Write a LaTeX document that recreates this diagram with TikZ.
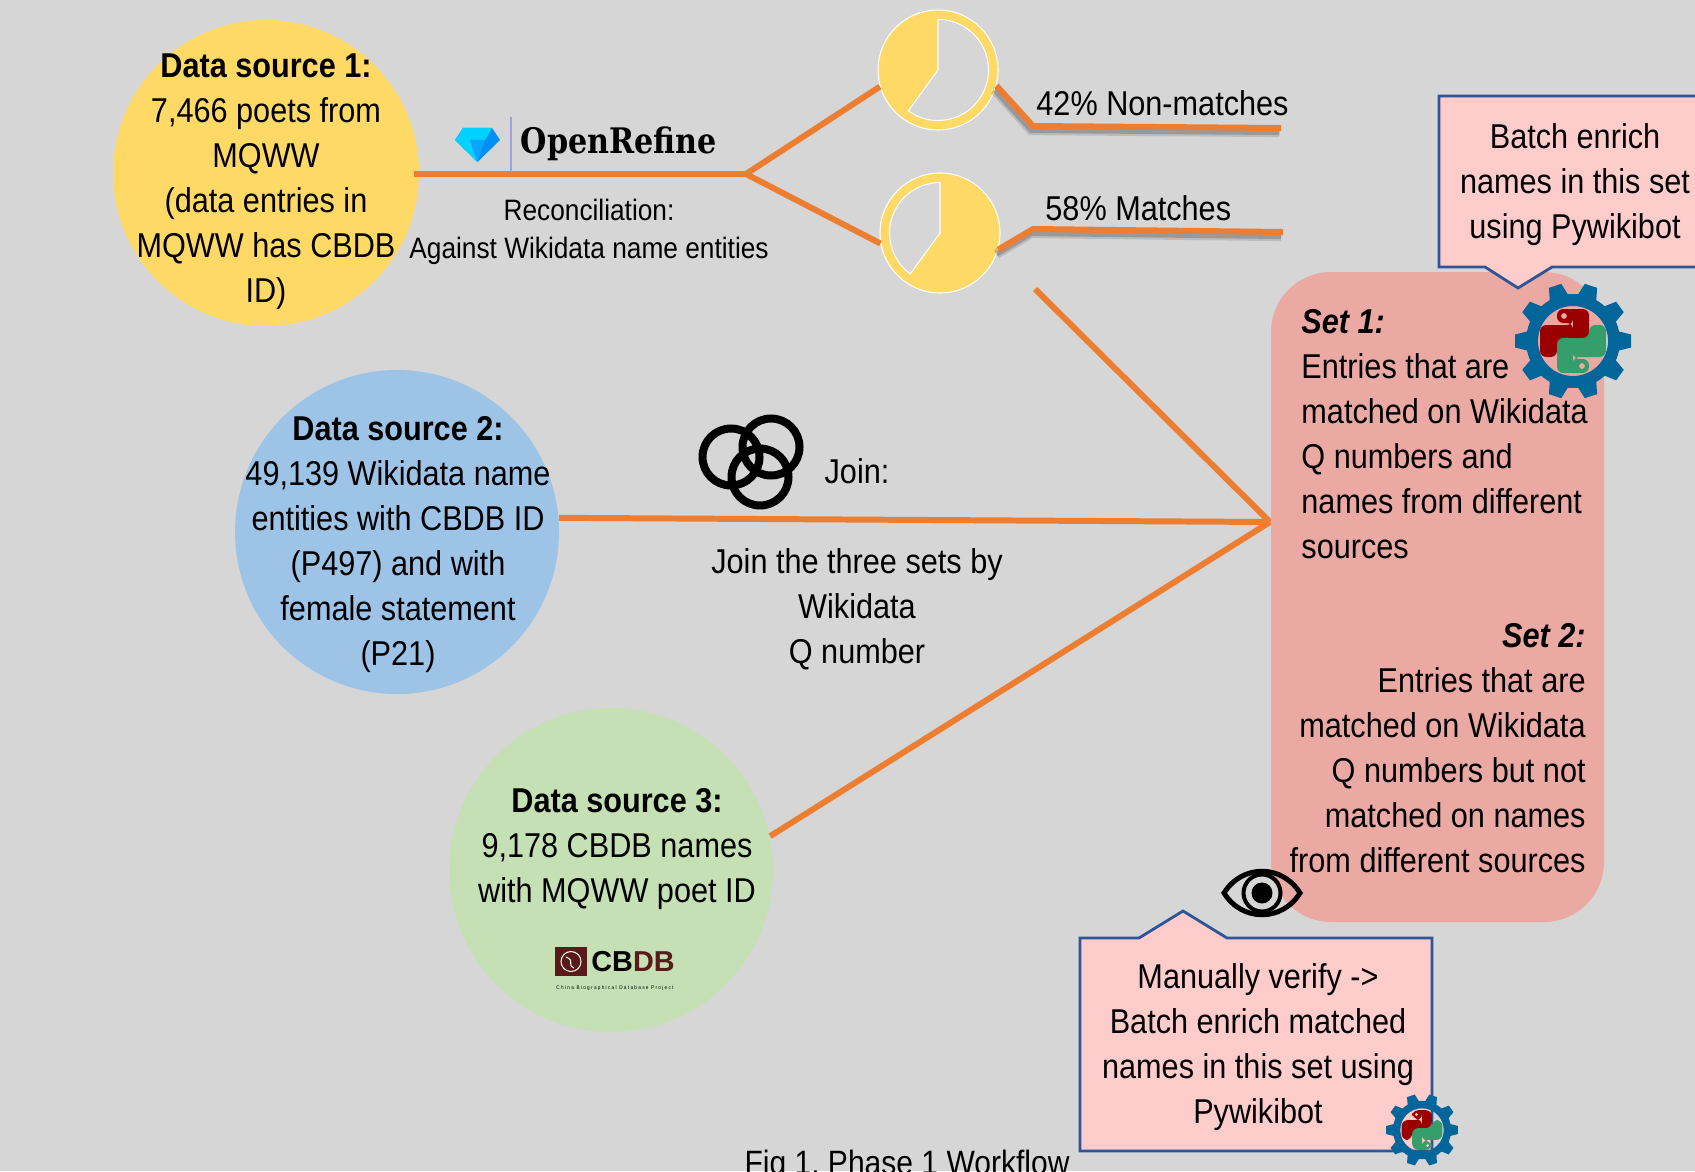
\documentclass[tikz,border=0pt]{standalone}
\usepackage{fontspec}
\usepackage{xcolor}
\usepackage{tikz}
\setmainfont[FakeStretch=0.89]{Liberation Sans}
\newfontfamily\logofont[FakeStretch=0.86]{DejaVu Serif}
\newfontfamily\cbdbfont{Liberation Sans}
\definecolor{mybg}{HTML}{D6D6D6}
\definecolor{myyellow}{HTML}{FFD966}
\definecolor{myblue}{HTML}{9DC3E6}
\definecolor{mygreen}{HTML}{C5E0B4}
\definecolor{myorange}{HTML}{ED7D31}
\definecolor{mysalmon}{HTML}{EBA9A4}
\definecolor{mypink}{HTML}{FFCCCC}
\definecolor{mynavy}{HTML}{2F5597}
\definecolor{gearblue}{HTML}{02669B}
\definecolor{pyred}{HTML}{9B0000}
\definecolor{pygreen}{HTML}{369E6A}
\definecolor{gemlight}{HTML}{00D2FF}
\definecolor{gemmid}{HTML}{0AA5FF}
\definecolor{gemdark}{HTML}{0090F5}
\definecolor{cbdbred}{HTML}{5A1A1A}
\tikzset{
srccircle/.style={circle,inner sep=0pt,minimum size=#1},
bodytext/.style={align=center,font=\fontsize{9.8}{12.8}\selectfont},
smalltext/.style={align=center,font=\fontsize{8.4}{10.8}\selectfont},
flow/.style={myorange,line width=1.7pt},
shadowflow/.style={myorange,line width=1.7pt,line join=miter,
preaction={draw=black,opacity=.12,line width=2.8pt,transform canvas={xshift=-.5pt,yshift=-1.2pt}},
preaction={draw=black,opacity=.18,line width=1.6pt,transform canvas={xshift=-.5pt,yshift=-1.2pt}}},
calloutbox/.style={draw=mynavy,fill=mypink,line width=.8pt},
pics/pygear/.style={code={
\fill[gearblue,even odd rule] (0,0) circle (.47) (0,0) circle (.35);
\foreach \a in {0,36,...,324} \fill[gearblue,rotate=\a] (.44,-.10) -- (.58,-.065) -- (.58,.065) -- (.44,.10) -- cycle;
\fill[pyred,even odd rule,rounded corners=1.8pt] (0,.18) -- (-.16,.18) -- (-.16,.32) -- (.16,.32) -- (.16,-.03) -- (-.16,-.03) -- (-.16,-.16) -- (-.33,-.16) -- (-.33,.16) -- (0,.16) -- cycle (-.09,.25) circle (.03);
\fill[pygreen,even odd rule,rounded corners=1.8pt] (0,-.18) -- (.16,-.18) -- (.16,-.32) -- (-.16,-.32) -- (-.16,.03) -- (.16,.03) -- (.16,.16) -- (.33,.16) -- (.33,-.16) -- (0,-.16) -- cycle (.09,-.25) circle (.03);
}}}
\begin{document}
\begin{tikzpicture}[x=1cm,y=1cm]
\clip (0,0) rectangle (16.95,11.71);
\fill[mybg] (0,0) rectangle (16.95,11.71);
% sources
\node[srccircle=3.06cm,fill=myyellow] (src1) at (2.66,9.98) {};
\node[srccircle=3.24cm,fill=myblue] (src2) at (3.97,6.39) {};
\node[srccircle=3.24cm,fill=mygreen] (src3) at (6.11,3.01) {};
\node[srccircle=1.2cm,fill=myyellow,draw=white,line width=.3pt] (pie1) at (9.38,11.01) {};
\node[srccircle=1.2cm,fill=myyellow,draw=white,line width=.3pt] (pie2) at (9.40,9.38) {};
% pies
\draw[white,line width=.3pt,fill=mybg] (pie1.center) -- ++(234:.505) arc[start angle=234,end angle=450,radius=.505] -- cycle;
\draw[white,line width=.3pt,fill=mybg] (pie2.center) -- ++(90:.505) arc[start angle=90,end angle=234,radius=.505] -- cycle;
% flows
\coordinate (branch) at (7.46,9.97);
\coordinate (srcstart) at (4.14,9.97);
\coordinate (hub) at (12.70,6.49);
\coordinate (matchstart) at (10.35,8.82);
\coordinate (nonelbow) at (10.33,10.45);
\coordinate (nonend) at (12.81,10.43);
\coordinate (matelbow) at (10.33,9.42);
\coordinate (matend) at (12.83,9.39);
\draw[flow] (srcstart) -- (branch) -- (pie1.196);
\draw[flow] (branch) -- (pie2.190);
\draw[shadowflow] (pie1.-15) -- (nonelbow) -- (nonend);
\draw[shadowflow] (pie2.-16) -- (matelbow) -- (matend);
\draw[flow] (matchstart) -- (hub);
\draw[flow] (src2.5) -- (hub);
\draw[flow] (src3.12) -- (hub);
% sets
\node[fill=mysalmon,rounded corners=.6cm,minimum width=3.33cm,minimum height=6.5cm,inner sep=0pt] (setbox) at (14.375,5.74) {};
\node[bodytext] (src1text) at (2.66,9.89) {\textbf{Data source 1:}\\7,466 poets from\\MQWW\\(data entries in\\MQWW has CBDB\\ID)};
\node[bodytext] (src2text) at (3.98,6.265) {\textbf{Data source 2:}\\49,139 Wikidata name\\entities with CBDB ID\\(P497) and with\\female statement\\(P21)};
\node[bodytext] (src3text) at (6.17,3.22) {\textbf{Data source 3:}\\9,178 CBDB names\\with MQWW poet ID};
\node[bodytext,align=left,anchor=west] (set1text) at (12.89,7.37) {\textbf{\textit{Set 1:}}\\Entries that are\\matched on Wikidata\\Q numbers and\\names from different\\sources};
\node[bodytext,align=right,anchor=east] (set2text) at (15.98,4.23) {\textbf{\textit{Set 2:}}\\Entries that are\\matched on Wikidata\\Q numbers but not\\matched on names\\from different sources};
\node[smalltext] (recon) at (5.89,9.39) {Reconciliation:\\Against Wikidata name entities};
\node[bodytext,anchor=west] (nonlabel) at (10.24,10.68) {42\% Non-matches};
\node[bodytext,anchor=west] (matlabel) at (10.33,9.63) {58\% Matches};
\node[bodytext] (joinlabel) at (8.57,7.00) {Join:};
\node[bodytext] (jointext) at (8.57,5.62) {Join the three sets by\\Wikidata\\Q number};
% openrefine logo
\fill[gemdark] (4.55,10.31) -- (4.63,10.43) -- (4.92,10.43) -- (5.00,10.31) -- (4.775,10.09) -- cycle;
\fill[gemlight] (4.55,10.31) -- (4.63,10.43) -- (4.92,10.43) -- (4.85,10.31) -- cycle;
\fill[gemlight] (4.55,10.31) -- (4.70,10.31) -- (4.775,10.09) -- cycle;
\fill[gemmid] (4.70,10.31) -- (4.85,10.31) -- (4.775,10.09) -- cycle;
\draw[blue!25!mybg,line width=.5pt] (5.11,9.99) -- (5.11,10.54);
\node[font=\logofont\bfseries\fontsize{10}{12}\selectfont] (openrefine) at (6.19,10.27) {OpenRefine};
% join rings
\foreach \c in {(7.31,7.14),(7.71,7.24),(7.60,6.94)} \draw[black,line width=.08cm] \c circle (.285);
% cbdb logo
\fill[cbdbred] (5.55,1.95) rectangle (5.87,2.24);
\draw[white!70!mygreen,line width=.3pt] (5.71,2.095) circle (.10) (5.66,2.14) .. controls (5.76,2.10) and (5.66,2.07) .. (5.74,2.03);
\node[font=\cbdbfont\bfseries\fontsize{8.2}{9}\selectfont,inner sep=0pt] (cbdb) at (6.33,2.09) {CB\textcolor{cbdbred}{DB}};
\node[font=\fontsize{1.5}{2}\selectfont,inner sep=0pt] (cbdbsub) at (6.15,1.83) {C h i n a\ \ B i o g r a p h i c a l\ \ D a t a b a s e\ \ P r o j e c t};
% callouts
\draw[calloutbox] (14.39,10.75) -- (17.2,10.75) -- (17.2,9.04) -- (15.52,9.04) -- (15.18,8.83) -- (14.85,9.04) -- (14.39,9.04) -- cycle;
\node[bodytext] (call1text) at (15.75,9.86) {Batch enrich\\names in this set\\using Pywikibot};
\draw[calloutbox] (10.80,2.33) -- (11.39,2.33) -- (11.83,2.60) -- (12.27,2.33) -- (14.32,2.33) -- (14.32,.20) -- (10.80,.20) -- cycle;
\node[bodytext] (call2text) at (12.58,1.24) {Manually verify ->\\Batch enrich matched\\names in this set using\\Pywikibot};
\pic at (15.73,8.30) {pygear};
\pic[scale=.62] at (14.22,.41) {pygear};
% eye
\draw[black,line width=.05cm] (12.24,2.78) .. controls (12.42,3.07) and (12.82,3.07) .. (13.00,2.78) .. controls (12.82,2.49) and (12.42,2.49) .. (12.24,2.78) -- cycle;
\draw[black,line width=.04cm] (12.62,2.78) circle (.185);
\fill[black] (12.62,2.78) circle (.105);
\node[bodytext,font=\fontsize{9.6}{12.8}\selectfont] (caption) at (9.07,.05) {Fig 1.\ Phase 1 Workflow};
\end{tikzpicture}
\end{document}
